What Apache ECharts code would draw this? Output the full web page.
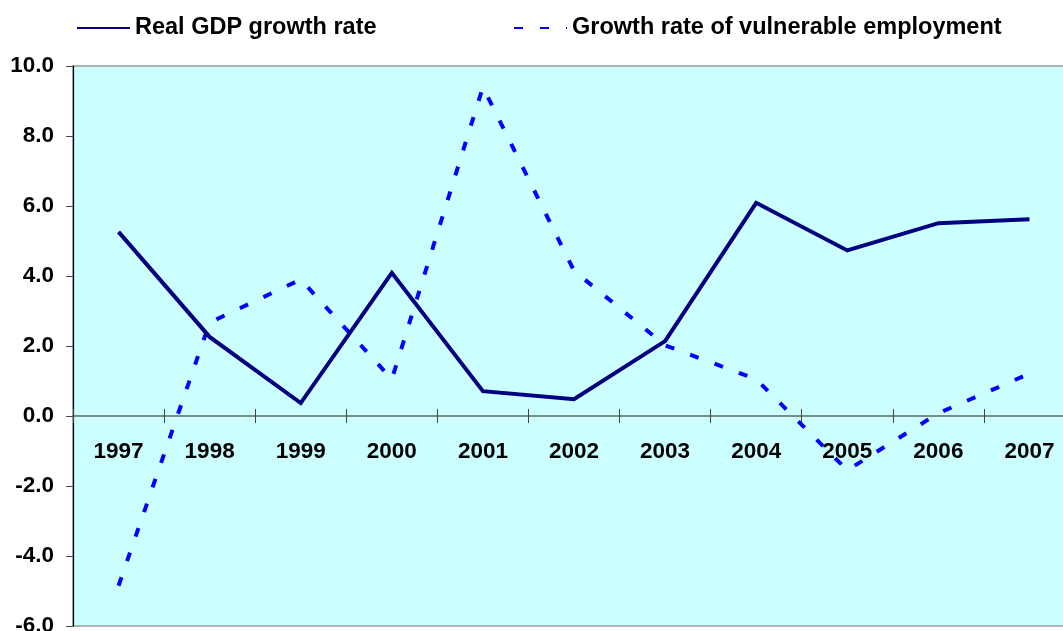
<!DOCTYPE html>
<html>
<head>
<meta charset="utf-8">
<script src="https://cdn.jsdelivr.net/npm/echarts@6/dist/echarts.min.js"></script>
<style>
html,body{margin:0;padding:0;background:#fff;}
#c{width:1063px;height:631px;}
</style>
</head>
<body>
<div id="c"></div>
<script>
const years = ['1997','1998','1999','2000','2001','2002','2003','2004','2005','2006','2007'];
const gdpGrowth = [5.26, 2.26, 0.37, 4.09, 0.71, 0.48, 2.14, 6.09, 4.73, 5.51, 5.62];
const vulnerableGrowth = [-4.85, 2.67, 3.90, 1.05, 9.40, 4.15, 2.02, 1.05, -1.55, 0.08, 1.21];
const yTicks = { min: -6, max: 10, step: 2 };
const seriesNames = ['Real GDP growth rate', 'Growth rate of vulnerable employment'];

const FONT = 'Liberation Sans, Arial, sans-serif';
const GRID_H = 560;
// place the category axis at value 0 of the value scale
const zeroFromBottom = (0 - yTicks.min) / (yTicks.max - yTicks.min) * GRID_H;
const zeroFromTop = GRID_H - zeroFromBottom;
const chart = echarts.init(document.getElementById('c'), null, { renderer: 'canvas' });
const legendText = { fontFamily: FONT, fontWeight: 'bold', fontSize: 23.5, color: '#000' };
chart.setOption({
  animation: false,
  backgroundColor: '#ffffff',
  legend: [
    { data: [seriesNames[0]], left: 71, top: 11, itemWidth: 53, itemHeight: 14,
      itemStyle: { opacity: 0 }, textStyle: legendText },
    { data: [seriesNames[1]], left: 508, top: 11, itemWidth: 53, itemHeight: 14,
      itemStyle: { opacity: 0 }, textStyle: legendText }
  ],
  grid: {
    left: 73, top: 66, width: 1002, height: GRID_H,
    show: true, backgroundColor: '#CCFFFF', borderColor: '#9a9a9a', borderWidth: 1.5,
    outerBoundsMode: 'none', containLabel: false
  },
  xAxis: [
    {
      type: 'category', data: years, boundaryGap: true, position: 'bottom', offset: -zeroFromBottom,
      axisLine: { onZero: false, lineStyle: { color: '#666', width: 1.5 } },
      axisTick: { show: true, inside: false, length: 7, lineStyle: { color: '#444', width: 1 } },
      axisLabel: { show: true, margin: 24, fontFamily: FONT, fontWeight: 'bold', fontSize: 22.5, color: '#000' },
      splitLine: { show: false }
    },
    {
      type: 'category', data: years, boundaryGap: true, position: 'top', offset: -zeroFromTop,
      axisLine: { show: false, onZero: false },
      axisTick: { show: true, inside: false, length: 7, lineStyle: { color: '#444', width: 1 } },
      axisLabel: { show: false },
      splitLine: { show: false }
    }
  ],
  yAxis: {
    type: 'value', min: yTicks.min, max: yTicks.max, interval: yTicks.step, position: 'left',
    axisLine: { show: true, onZero: false, lineStyle: { color: '#000', width: 1.2 } },
    axisTick: { show: true, inside: false, length: 7, lineStyle: { color: '#444', width: 1 } },
    axisLabel: { margin: 19, fontFamily: FONT, fontWeight: 'bold', fontSize: 22.5, color: '#000',
      formatter: v => v.toFixed(1) },
    splitLine: { show: false }
  },
  series: [
    {
      name: seriesNames[0], type: 'line', data: gdpGrowth, xAxisIndex: 0, yAxisIndex: 0,
      symbol: 'none', showSymbol: false,
      lineStyle: { color: '#000080', width: 4, join: 'miter' },
      itemStyle: { color: '#000080' }, z: 3
    },
    {
      name: seriesNames[1], type: 'line', data: vulnerableGrowth, xAxisIndex: 0, yAxisIndex: 0,
      symbol: 'none', showSymbol: false,
      lineStyle: { color: '#0000FF', width: 4, type: [9, 17], cap: 'butt' },
      itemStyle: { color: '#0000FF' }, z: 2
    }
  ]
});
</script>
</body>
</html>
